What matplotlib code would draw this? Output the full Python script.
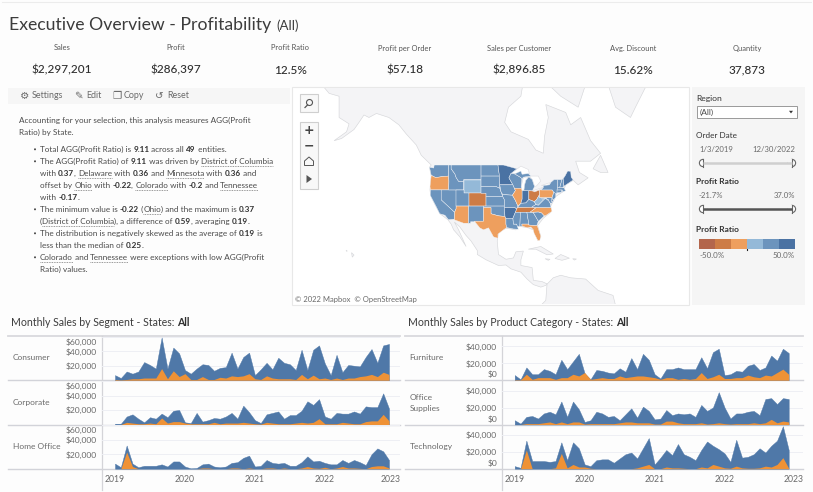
import re

import matplotlib
matplotlib.use('Agg')
import matplotlib.pyplot as plt
import numpy as np
from matplotlib.colors import BoundaryNorm, ListedColormap
from matplotlib.patches import Circle, Polygon, Rectangle
from matplotlib.transforms import ScaledTranslation

plt.rcParams['font.family'] = ['Lato', 'DejaVu Sans']

BLUE = '#4f78a8'
ORANGE = '#ef9236'
TEXT = '#4a4a4a'
GREY = '#6a6a6a'
LINE = '#d2d3d9'

kpi_names = ['Sales', 'Profit', 'Profit Ratio', 'Profit per Order', 'Sales per Customer', 'Avg. Discount', 'Quantity']
kpi_values = ['$2,297,201', '$286,397', '12.5%', '$57.18', '$2,896.85', '15.62%', '37,873']

summary_intro = ['Accounting for your selection, this analysis measures AGG(Profit', 'Ratio) by State.']
summary_lines = [
    ('*', 'Total AGG(Profit Ratio) is **9.11** across all **49** entities.'),
    ('*', 'The AGG(Profit Ratio) of **9.11** was driven by __District of Columbia__'),
    ('', 'with **0.37**, __Delaware__ with **0.36** and __Minnesota__ with **0.36** and'),
    ('', 'offset by __Ohio__ with **-0.22**, __Colorado__ with **-0.2** and __Tennessee__'),
    ('', 'with **-0.17**.'),
    ('*', 'The minimum value is **-0.22** (__Ohio__) and the maximum is **0.37**'),
    ('', '(__District of Columbia__), a difference of **0.59**, averaging **0.19**.'),
    ('*', 'The distribution is negatively skewed as the average of **0.19** is'),
    ('', 'less than the median of **0.25**.'),
    ('*', '__Colorado__ and __Tennessee__ were exceptions with low AGG(Profit'),
    ('', 'Ratio) values.'),
]

# monthly sales in $ thousands, Jan 2019 - Dec 2022
consumer_total = [7, 3, 12, 9, 12, 25, 21, 16, 59, 16, 45, 37,
                  14, 9, 16, 22, 21, 13, 17, 18, 38, 16, 32, 38,
                  7, 15, 24, 15, 31, 24, 22, 14, 42, 14, 42, 48,
                  23, 7, 35, 11, 21, 20, 19, 32, 43, 24, 48, 50]
consumer_profit = [1, 0.5, 1, 2, 2, 3, 3, 3, 16, 2, 13, 5,
                   9, 1, 1, 5, 1, 1, 4, 3, 6, 5, 6, 9,
                   2, 1, 6, 3, 2, 2, 2, 1, 8, 2, 7, 2,
                   3, 1, 3, 1, 3, 3, 5, 6, 8, 5, 11, 8]
corporate_total = [1, 1, 11, 14, 8, 3, 10, 8, 15, 10, 19, 20,
                   3, 2, 16, 4, 6, 9, 8, 11, 16, 8, 26, 17,
                   6, 2, 14, 16, 18, 8, 13, 13, 19, 32, 27, 35,
                   11, 8, 16, 15, 15, 18, 15, 25, 24, 24, 43, 22]
corporate_profit = [0, 0, 3, 2, 1, 1, 2, 1, 9, 2, 4, 4,
                    2, 1, 1, 1, 1, 3, 1, 2, 2, 2, 3, 2,
                    1, 0.5, 3, 2, 1, 1, 1, 2, 3, 2, 3, 8,
                    1, 1, 1, 3, 2, 1, 1, 4, 5, 5, 14, 5]
home_total = [7, 2, 32, 7, 2, 4, 4, 4, 6, 3, 10, 10,
              3, 0.5, 1, 6, 7, 3, 2, 3, 8, 9, 15, 18,
              3, 4, 12, 8, 7, 8, 4, 4, 9, 17, 10, 11,
              8, 6, 6, 12, 8, 12, 9, 5, 20, 28, 24, 12]
home_profit = [0, 0, 23, 3, 0, 0, 0, 0, 0, 0, 0, 0,
               0, 0, 0, 1, 1, 0, 0, 0, 1, 1, 0, 1,
               0, 0, 1, 1, 0, 1, 0, 0, 1, 3, 1, 0.5,
               2, 0, 1, 3, 1, 1, 0.5, 0, 3, 4, 4, 1]
furniture_total = [6, 1, 15, 7, 7, 13, 11, 7, 24, 13, 22, 31,
                   8, 1, 12, 11, 9, 8, 14, 10, 26, 13, 31, 24,
                   7, 2, 13, 13, 15, 13, 13, 13, 27, 14, 33, 37,
                   6, 7, 11, 10, 17, 19, 12, 15, 29, 23, 37, 32]
furniture_profit = [0.5, 0.5, 7, 1, 3, 3, 3, 1, 3, 3, 7, 5,
                    9, 1, 2, 3, 2, 2, 5, 3, 4, 5, 5, 4,
                    3, 1, 3, 3, 1, 2, 1, 2, 9, 2, 4, 7,
                    2, 2, 3, 3, 6, 4, 3, 6, 5, 9, 13, 7]
office_total = [5, 1, 9, 10, 7, 13, 15, 12, 27, 9, 27, 18,
                3, 5, 15, 13, 9, 10, 5, 12, 19, 8, 21, 16,
                6, 7, 17, 11, 13, 12, 13, 9, 23, 16, 20, 38,
                20, 7, 13, 13, 15, 16, 11, 30, 31, 24, 31, 30]
office_profit = [0, 0, 1, 1, 1, 2, 3, 1, 3, 1, 3, 3,
                 0.5, 1, 1, 1, 1, 1, 2, 3, 3, 2, 2, 2,
                 0.5, 0.5, 4, 4, 2, 1, 1, 1, 2, 0.5, 1, 2,
                 1, 0.5, 1, 1, 1, 2, 1, 2, 6, 2, 4, 3]
tech_total = [3, 1, 33, 9, 9, 9, 8, 9, 31, 10, 31, 24,
              5, 3, 10, 11, 11, 7, 12, 17, 19, 12, 24, 36,
              5, 13, 22, 16, 29, 17, 14, 10, 22, 32, 27, 23,
              18, 8, 34, 13, 14, 17, 24, 19, 27, 33, 50, 22]
tech_profit = [0, 0, 22, 0, 0, 0, 0, 1, 18, 1, 5, 2,
               2, 0.5, 0, 0, 0, 0, 0, 0, 0, 1, 3, 5,
               0, 0, 2, 1, 1, 0.5, 0, 0, 2, 1, 5, 3,
               1, 0.5, 3, 1, 0.5, 0.5, 1, 3, 2, 5, 13, 0.5]
year_labels = ['2019', '2020', '2021', '2022', '2023']

state_ratio = {
    'WA': .24, 'OR': -.07, 'CA': .23, 'NV': .24, 'ID': .26, 'MT': .25, 'WY': .10, 'UT': .25, 'CO': -.20,
    'AZ': -.06, 'NM': .30, 'ND': .25, 'SD': .25, 'NE': .25, 'KS': .25, 'OK': .30, 'TX': -.15, 'MN': .36,
    'IA': .26, 'MO': .30, 'AR': .35, 'LA': .25, 'WI': .25, 'IL': -.13, 'IN': .35, 'MI': .30, 'OH': -.22,
    'KY': .25, 'TN': -.17, 'MS': .28, 'AL': .29, 'GA': .30, 'FL': -.04, 'SC': .26, 'NC': -.07, 'VA': .28,
    'WV': .12, 'MD': .28, 'DE': .36, 'DC': .37, 'PA': -.10, 'NY': .30, 'NJ': .30, 'CT': .30, 'RI': .30,
    'MA': .28, 'VT': .30, 'NH': .30, 'ME': .36,
}
ratio_steps = [-.5, -1 / 3, -1 / 6, 0, 1 / 6, 1 / 3, .5]
ratio_colors = ['#b3664c', '#cd7c46', '#ee9f5e', '#94b9d8', '#6c94bd', '#4a72a3']

# simplified outlines, lon/lat
state_shapes = {
    'WA': [(-124.7, 48.4), (-123, 48.2), (-122.8, 49), (-117, 49), (-117, 46), (-119, 45.9), (-121, 45.7), (-122.3, 45.6), (-124, 46.2)],
    'OR': [(-124, 46.2), (-122.3, 45.6), (-121, 45.7), (-119, 45.9), (-117, 46), (-116.9, 44.5), (-117, 42), (-124.3, 42), (-124.5, 43)],
    'CA': [(-124.3, 42), (-120, 42), (-120, 39), (-114.6, 35), (-114.7, 32.7), (-117.1, 32.5), (-118.5, 34), (-120.6, 34.5), (-122, 36.8), (-123.8, 39.5), (-124.4, 40.4)],
    'NV': [(-120, 42), (-114, 42), (-114, 36.2), (-114.6, 35), (-120, 39)],
    'ID': [(-117, 49), (-116, 49), (-116, 48), (-114.5, 46.6), (-114, 45.6), (-113, 44.5), (-111, 44.5), (-111, 42), (-117, 42), (-116.9, 44.5), (-117, 46)],
    'MT': [(-116, 49), (-104, 49), (-104, 45), (-111, 45), (-111, 44.5), (-113, 44.5), (-114, 45.6), (-114.5, 46.6), (-116, 48)],
    'WY': [(-111, 45), (-104, 45), (-104, 41), (-111, 41)],
    'UT': [(-114, 42), (-111, 42), (-111, 41), (-109, 41), (-109, 37), (-114, 37)],
    'CO': [(-109, 41), (-102, 41), (-102, 37), (-109, 37)],
    'AZ': [(-114, 37), (-109, 37), (-109, 31.3), (-111, 31.3), (-114.8, 32.5), (-114.7, 32.7), (-114.6, 35), (-114, 36.2)],
    'NM': [(-109, 37), (-103, 37), (-103, 32), (-106.6, 32), (-106.5, 31.8), (-108.2, 31.8), (-108.2, 31.3), (-109, 31.3)],
    'ND': [(-104, 49), (-97.2, 49), (-96.6, 46), (-104, 46)],
    'SD': [(-104, 46), (-96.6, 46), (-96.5, 42.5), (-98, 43), (-104, 43)],
    'NE': [(-104, 43), (-98, 43), (-96.5, 42.5), (-95.3, 40), (-102, 40), (-102, 41), (-104, 41)],
    'KS': [(-102, 40), (-95.3, 40), (-94.6, 39), (-94.6, 37), (-102, 37)],
    'OK': [(-103, 37), (-94.6, 37), (-94.4, 33.6), (-97, 33.8), (-100, 34.5), (-100, 36.5), (-103, 36.5)],
    'TX': [(-103, 36.5), (-100, 36.5), (-100, 34.5), (-97, 33.8), (-94.4, 33.6), (-94, 33), (-94, 31), (-93.7, 29.8), (-95, 29), (-97.2, 27.5), (-97.2, 26), (-99, 26.5), (-101, 29.7), (-103, 29), (-104.5, 29.7), (-106.5, 31.8), (-106.6, 32), (-103, 32)],
    'MN': [(-97.2, 49), (-95, 49), (-89.6, 48), (-92, 46.7), (-92.8, 45.5), (-91.2, 43.5), (-96.5, 43.5), (-96.6, 46)],
    'IA': [(-96.5, 43.5), (-91.2, 43.5), (-90.2, 41.8), (-91.4, 40.4), (-95.3, 40.6), (-96, 41.5)],
    'MO': [(-95.3, 40.6), (-91.4, 40.4), (-90.2, 38.8), (-89.2, 37), (-89.7, 36), (-90.4, 36.5), (-94.6, 36.5), (-94.6, 39), (-95.3, 40)],
    'AR': [(-94.6, 36.5), (-90.4, 36.5), (-89.7, 36), (-91.2, 33), (-94, 33), (-94.4, 33.6)],
    'LA': [(-94, 33), (-91.2, 33), (-91, 31), (-89.7, 31), (-89.4, 30.2), (-89, 29.2), (-91, 29.3), (-93.7, 29.8), (-94, 31)],
    'WI': [(-92, 46.7), (-90.5, 46.6), (-88, 45.6), (-87.6, 45.1), (-87.9, 43), (-87.8, 42.5), (-90.6, 42.5), (-91.2, 43.5), (-92.8, 45.5)],
    'IL': [(-90.6, 42.5), (-87.8, 42.5), (-87.5, 41.7), (-87.5, 39.2), (-88, 37.9), (-89.2, 37), (-90.2, 38.8), (-91.4, 40.4), (-90.2, 41.8)],
    'IN': [(-87.5, 41.7), (-86.8, 41.8), (-84.8, 41.75), (-84.8, 39.1), (-86, 38), (-88, 37.9), (-87.5, 39.2)],
    'MI': [(-86.8, 41.8), (-84.8, 41.75), (-83.4, 41.7), (-82.5, 43), (-83, 44), (-83.4, 45), (-84.8, 45.8), (-86, 44.8), (-86.5, 43.5)],
    'OH': [(-84.8, 41.75), (-83.4, 41.7), (-82.5, 41.4), (-80.5, 42), (-80.5, 40.6), (-81.7, 39), (-82.6, 38.4), (-84.8, 39.1)],
    'KY': [(-89.4, 36.5), (-88, 37.9), (-86, 38), (-84.8, 39.1), (-82.6, 38.4), (-82, 37.5), (-83.7, 36.6)],
    'TN': [(-90.2, 35), (-89.7, 36), (-89.4, 36.5), (-83.7, 36.6), (-81.7, 36.6), (-84.3, 35)],
    'MS': [(-90.2, 35), (-88.2, 35), (-88.4, 30.3), (-89.4, 30.2), (-89.7, 31), (-91, 31), (-91.2, 33)],
    'AL': [(-88.2, 35), (-85.6, 35), (-85, 32), (-85, 31), (-87.6, 31), (-87.5, 30.3), (-88.4, 30.3)],
    'GA': [(-85.6, 35), (-83.1, 35), (-81, 32), (-81.5, 30.7), (-82, 30.4), (-84.9, 30.7), (-85, 31), (-85, 32)],
    'FL': [(-87.6, 31), (-85, 31), (-84.9, 30.7), (-82, 30.4), (-81.5, 30.7), (-80, 26.8), (-80.4, 25.2), (-81.2, 25.2), (-82.7, 27.8), (-83, 29), (-84, 30), (-85.3, 29.7), (-87.5, 30.3)],
    'SC': [(-83.1, 35), (-81, 35.1), (-79.7, 34.8), (-78.6, 33.8), (-80.9, 32), (-81, 32)],
    'NC': [(-84.3, 35), (-81.7, 36.6), (-75.9, 36.55), (-75.5, 35.3), (-78, 33.9), (-78.6, 33.8), (-79.7, 34.8), (-81, 35.1), (-83.1, 35)],
    'VA': [(-83.7, 36.6), (-75.9, 36.55), (-76.3, 38), (-77, 38.9), (-78.3, 39.4), (-79.5, 38.5), (-81, 37.3), (-82, 37.5)],
    'WV': [(-82.6, 38.4), (-81.7, 39), (-80.5, 40.6), (-80.5, 39.7), (-79.5, 39.7), (-79.5, 39.2), (-78, 39.6), (-78.3, 39.4), (-79.5, 38.5), (-81, 37.3), (-82, 37.5)],
    'MD': [(-79.5, 39.7), (-75.8, 39.7), (-75.7, 38.5), (-75.2, 38.4), (-75.7, 37.9), (-76.3, 38), (-77, 38.9), (-78, 39.6), (-79.5, 39.2)],
    'DE': [(-75.8, 39.7), (-75.4, 39.8), (-75.05, 38.5), (-75.7, 38.5)],
    'DC': [(-77.3, 38.95), (-77.04, 39.15), (-76.8, 38.9), (-77.04, 38.7)],
    'PA': [(-80.5, 42), (-79.8, 42), (-75.4, 42), (-74.8, 41.3), (-75.4, 39.8), (-75.8, 39.7), (-80.5, 39.7)],
    'NY': [(-79.8, 42), (-79, 42.7), (-79, 43.3), (-76.5, 43.5), (-76, 44.2), (-74.7, 45), (-73.3, 45), (-73.3, 42.7), (-73.5, 41.1), (-74, 40.7), (-74.8, 41.3), (-75.4, 42)],
    'NJ': [(-74.8, 41.3), (-74, 40.9), (-74, 39.8), (-74.9, 38.95), (-75.5, 39.5)],
    'CT': [(-73.5, 42), (-71.8, 42), (-71.8, 41.3), (-73.5, 41.1)],
    'RI': [(-71.8, 42), (-71.4, 42), (-71.2, 41.5), (-71.8, 41.3)],
    'MA': [(-73.3, 42.7), (-71.3, 42.7), (-70.7, 42.6), (-70, 41.7), (-71.2, 41.5), (-71.4, 42), (-73.5, 42)],
    'VT': [(-73.3, 45), (-71.5, 45), (-72.4, 42.7), (-73.3, 42.7)],
    'NH': [(-71.5, 45), (-71, 45.3), (-70.7, 43.1), (-71.3, 42.7), (-72.4, 42.7)],
    'ME': [(-71, 45.3), (-70.3, 46), (-69.2, 47.4), (-68, 47.3), (-67.8, 45.7), (-67, 44.9), (-70.7, 43.1)],
}
michigan_upper = [(-90.5, 46.6), (-88, 47.4), (-87.5, 46.5), (-85, 46.7), (-84, 46), (-87, 45.7), (-87.6, 45.1), (-88, 45.6)]

land_shapes = [
    [(-170, 70), (-168, 66), (-165, 64.5), (-161, 64), (-161, 60), (-157, 58.7), (-158, 57), (-163, 55), (-160, 55.5), (-155, 57.5),
     (-153, 59), (-151, 60.5), (-149, 60), (-146, 60.8), (-141, 60), (-137, 58.5), (-134, 56.5), (-130, 54), (-128, 51.5), (-124, 49),
     (-124.7, 48.4), (-124, 46), (-124.5, 42), (-124.2, 40.3), (-122.5, 37.5), (-120.5, 34.5), (-117.3, 32.5), (-116, 31), (-115, 29),
     (-112.5, 26.5), (-110, 23), (-111, 25), (-113, 29), (-114.7, 31.7), (-112.5, 30), (-110, 27), (-108, 25), (-105.5, 21.5), (-105.5, 20),
     (-102, 18), (-97, 15.8), (-94, 16), (-92, 14.5), (-88, 13.2), (-85.5, 10.5), (-83, 8.3), (-80, 7.3), (-78, 8), (-77.3, 8.5),
     (-79.5, 9.5), (-83, 10), (-83.5, 15), (-88, 15.8), (-88, 18), (-87, 21.3), (-90, 21), (-91, 18.7), (-94, 18.2), (-97, 20), (-97.5, 25),
     (-97, 28), (-94, 29.6), (-90, 29), (-89, 30.3), (-85, 29.7), (-83, 29), (-81.2, 25.2), (-80, 26.5), (-81.3, 30.5), (-79, 33), (-76, 35),
     (-76, 37), (-74, 40), (-71, 41.5), (-70, 43.5), (-67, 44.8), (-65, 43.5), (-61, 45.5), (-64.5, 47), (-66, 50), (-60, 50), (-56, 52),
     (-60, 55), (-64, 60), (-68, 58.5), (-70, 61), (-78, 62.5), (-77, 60), (-78.5, 56), (-79, 52), (-82, 52.8), (-85, 55.3), (-92, 57),
     (-94.5, 59), (-93, 62), (-88, 64), (-87, 66.5), (-87, 70)],
    [(-44, 60), (-50, 62), (-53, 66), (-53, 70), (-20, 70), (-22, 66), (-38, 65.5), (-42, 62)],
    [(-77, 66), (-72, 64), (-65, 62), (-62, 66), (-68, 70), (-77, 70)],
    [(-59, 48), (-56, 51.5), (-53, 47), (-56, 47)],
    [(-85, 22), (-80, 23), (-75, 20.2), (-77.5, 19.9), (-82, 22)],
    [(-74.3, 18.5), (-72, 20), (-68.5, 18.6), (-71.5, 17.8)],
    [(-78.3, 18.4), (-76.3, 18.2), (-77, 17.8)],
    [(-67.2, 18.4), (-65.7, 18.3), (-66.5, 17.9)],
    [(-156, 20.7), (-155, 19.8), (-155.7, 19)],
    [(-158.2, 21.6), (-157.7, 21.3), (-158, 21.2)],
    [(-77.5, 8.5), (-75, 11), (-72, 12), (-68, 11), (-62, 10.5), (-57, 6), (-51, 4), (-50, 0), (-50, -5), (-80, -5), (-80, 0), (-78, 2)],
]
lake_shapes = [
    [(-92, 46.7), (-88, 48.7), (-85, 47.8), (-84.6, 46.6), (-87.5, 46.5), (-90.5, 46.7)],
    [(-87.9, 43), (-87.5, 41.7), (-86.8, 41.8), (-86.5, 43.5), (-86, 44.8), (-85, 45.8), (-87, 45.6)],
    [(-84.6, 46), (-81, 46), (-80, 44.6), (-81.7, 43.2), (-82.5, 43), (-83.4, 45)],
    [(-83.4, 41.7), (-79, 42.8), (-79, 42.6), (-82.5, 41.4)],
    [(-79.8, 43.3), (-76.5, 44.1), (-76.2, 43.5), (-79, 43.3)],
]
controls = ['+', '\u2212']


def merc(lat):
    return np.degrees(np.log(np.tan(np.radians(45 + np.asarray(lat, dtype=float) / 2))))


def project(shape):
    return [(lon, merc(lat)) for lon, lat in shape]


def px_axes(x0, y0, x1, y1, **kw):
    return fig.add_axes([x0 / 813, 1 - y1 / 492, (x1 - x0) / 813, (y1 - y0) / 492], **kw)


fig = plt.figure(figsize=(8.13, 4.92), dpi=100, facecolor='#fdfdfd')
renderer = fig.canvas.get_renderer()

ui = fig.add_axes([0, 0, 1, 1], zorder=5)
ui.set_xlim(0, 813)
ui.set_ylim(492, 0)
ui.axis('off')
ui.patch.set_visible(False)

back = fig.add_axes([0, 0, 1, 1], zorder=0)
back.set_xlim(0, 813)
back.set_ylim(492, 0)
back.axis('off')
back.add_patch(Rectangle((8, 88), 282, 16, fc='#f6f6f6', ec='none'))
back.add_patch(Rectangle((692, 87), 113, 218, fc='#f5f5f5', ec='none'))
back.add_patch(Rectangle((292, 87), 397, 218, fc='white', ec='#e8e8e8', lw=0.8))
back.plot([2, 811], [2, 2], color='#ececec', lw=0.8)


def label(x, y, s, size=6.1, color=TEXT, ha='left', **kw):
    return ui.text(x, y, s, fontsize=size, color=color, ha=ha, va='center', **kw)


# header
t = label(9, 25, 'Executive Overview - Profitability', size=12.7, color='#3c3c3c')
label(t.get_window_extent(renderer).x1 + 5, 26, '(All)', size=9.5, color='#3c3c3c')
for i, (name, value) in enumerate(zip(kpi_names, kpi_values)):
    cx = 62 + i * 114.2
    label(cx, 48, name, size=5.4, color='#555555', ha='center')
    label(cx, 70, value, size=8.5, color='#2f2f2f', ha='center', fontweight='medium')

# toolbar
for x, icon, name in [(20, '\u2699', 'Settings'), (74, '\u270e', 'Edit'), (112, '\u2750', 'Copy'), (155, '\u21ba', 'Reset')]:
    ui.text(x, 96, icon, fontsize=7.5, color=GREY, va='center', family='DejaVu Sans')
    label(x + 12, 96, name, size=6.4, color=GREY)


def rich_line(x, y, line):
    for part in re.split(r'(\*\*.+?\*\*|__.+?__)', line):
        if not part:
            continue
        bold = part.startswith('**')
        under = part.startswith('__')
        s = part[2:-2] if bold or under else part
        t = label(x, y, s.replace(' ', '\u00a0'), size=5.9, color='#2f2f2f' if bold else TEXT,
                  fontweight='bold' if bold else 'normal')
        x1 = t.get_window_extent(renderer).x1
        if under:
            ui.plot([x, x1], [y + 5, y + 5], color='#777777', lw=0.6, ls=(0, (1, 1)))
        x = x1


for i, s in enumerate(summary_intro):
    rich_line(19, 120.7 + i * 11.7, s)
for i, (bullet, s) in enumerate(summary_lines):
    y = 149.3 + i * 12
    if bullet:
        ui.add_patch(Circle((35, y), 1, fc=TEXT, ec='none'))
    rich_line(40, y, s)

# map
lon0, lon1 = -179.9, -20.9
my0, my1 = 0.14, 87.7
mp = px_axes(293, 88, 688, 304, zorder=1)
mp.set_xlim(lon0 + 0.4, lon1)
mp.set_ylim(my0 + 0.4, my1 - 0.4)
mp.axis('off')
for shape in land_shapes:
    mp.add_patch(Polygon(project(shape), fc='#f4f4f6', ec='#d6d7da', lw=0.45))
for shape in lake_shapes:
    mp.add_patch(Polygon(project(shape), fc='white', ec='#dcdce0', lw=0.4))
step_cmap = ListedColormap(ratio_colors)
step_norm = BoundaryNorm(ratio_steps, step_cmap.N)
for state, shape in state_shapes.items():
    color = step_cmap(step_norm(state_ratio[state]))
    mp.add_patch(Polygon(project(shape), fc=color, ec='#f2f4f8', lw=0.3))
    if state == 'MI':
        mp.add_patch(Polygon(project(michigan_upper), fc=color, ec='#f2f4f8', lw=0.3))

label(295, 299.5, '\u00a9 2022 Mapbox  \u00a9 OpenStreetMap', size=5.5, color=GREY)
ui.add_patch(Rectangle((300, 94), 18, 18, fc='#f8f8f8', ec='#cfcfcf', lw=0.8))
ui.add_patch(Circle((309.5, 102.5), 3, fc='none', ec='#555555', lw=0.8))
ui.plot([307.5, 305], [105, 107.5], color='#555555', lw=0.9)
ui.add_patch(Rectangle((300, 122), 18, 67, fc='#f8f8f8', ec='#cfcfcf', lw=0.8))
for y, s in zip([131, 145.5], controls):
    ui.text(309, y, s, fontsize=9, color='#444444', ha='center', va='center', family='DejaVu Sans', fontweight='bold')
ui.add_patch(Polygon([(309, 157), (304.5, 161), (304.5, 165.5), (313.5, 165.5), (313.5, 161)], fc='none', ec='#555555', lw=0.7))
ui.add_patch(Polygon([(306.5, 175), (306.5, 183), (312, 179)], fc='#555555', ec='none'))

# sidebar
label(696, 99, 'Region', size=6.1, color='#333333')
ui.add_patch(Rectangle((697, 106), 100, 12, fc='white', ec='#9a9a9a', lw=0.7))
label(700, 112, '(All)', size=6)
ui.add_patch(Polygon([(789, 110.8), (793, 110.8), (791, 113.4)], fc='#333333', ec='none'))
label(696, 136, 'Order Date', size=5.9, color='#333333')
label(699, 150, '1/3/2019', size=5.6, color=GREY)
label(795, 150, '12/30/2022', size=5.6, color=GREY, ha='right')
label(696, 182, 'Profit Ratio', size=6, color='#333333', fontweight='bold')
label(699, 196, '-21.7%', size=5.6, color=GREY)
label(795, 196, '37.0%', size=5.6, color=GREY, ha='right')
for y, color in [(163, '#cfcfcf'), (209, '#555555')]:
    ui.add_patch(Circle((703, y), 3.6, fc='white', ec='#666666', lw=0.8))
    ui.add_patch(Circle((792, y), 3.6, fc='white', ec='#666666', lw=0.8))
    ui.add_patch(Rectangle((703, y - 4.2), 4.2, 8.4, fc='#f5f5f5', ec='none'))
    ui.add_patch(Rectangle((787.8, y - 4.2), 4.2, 8.4, fc='#f5f5f5', ec='none'))
    ui.plot([703, 703], [y - 3.6, y + 3.6], color='#666666', lw=0.8)
    ui.plot([792, 792], [y - 3.6, y + 3.6], color='#666666', lw=0.8)
    ui.plot([703, 792], [y, y], color=color, lw=1.8, solid_capstyle='butt')
label(696, 229, 'Profit Ratio', size=6, color='#333333', fontweight='bold')
leg = px_axes(699, 239, 795, 249, zorder=6)
leg.pcolormesh(ratio_steps, [0, 1], [[(a + b) / 2 for a, b in zip(ratio_steps, ratio_steps[1:])]], cmap=step_cmap, norm=step_norm)
leg.axis('off')
ui.plot([747, 747], [247, 250], color='#222222', lw=0.8)
label(699, 255, '-50.0%', size=5.8, color=GREY)
label(795, 255, '50.0%', size=5.8, color=GREY, ha='right')

# area charts
rows = [
    ('Monthly Sales by Segment - States: ', 11, 8, 102, 400, 115, 61,
     [60, 40, 20], [('Consumer', consumer_total, consumer_profit),
                    ('Corporate', corporate_total, corporate_profit),
                    ('Home Office', home_total, home_profit)]),
    ('Monthly Sales by Product Category - States: ', 408, 405, 502, 803, 514.7, 52,
     [40, 20, 0], [('Furniture', furniture_total, furniture_profit),
                   ('Office\nSupplies', office_total, office_profit),
                   ('Technology', tech_total, tech_profit)]),
]
tops = [336, 380.3, 424.5]
months = np.arange(48)
for title, tx, hx, ax0, ax1, first_x, ymax, yticks, panels in rows:
    t = label(tx, 323, title.replace(' ', '\u00a0'), size=7.6, color='#3c3c3c')
    label(t.get_window_extent(renderer).x1, 323, 'All', size=7.6, color='#2f2f2f', fontweight='bold')
    back.plot([hx, ax1], [336, 336], color='#d9d9dd', lw=1.3)
    for top, (name, total, profit) in zip(tops, panels):
        ax = px_axes(ax0, top, ax1, top + 44.2, zorder=2)
        ax.patch.set_visible(False)
        ax.fill_between(months, total, color=BLUE, lw=0.3)
        ax.fill_between(months, profit, color=ORANGE, lw=0)
        ax.set_xlim((ax0 - first_x) / 5.83, (ax1 - first_x) / 5.83)
        ax.set_ylim(0, ymax)
        ax.set_yticks(yticks, ['${:,}'.format(v * 1000) for v in yticks])
        ax.set_xticks([])
        ax.grid(axis='y', color='#eeeff4', lw=0.7)
        ax.set_axisbelow(True)
        ax.tick_params(axis='y', length=0, pad=3.5, labelsize=6.1, labelcolor=GREY)
        for lab, v in zip(ax.get_yticklabels(), yticks):
            # top and bottom labels get pushed into the pane
            shift = -4.5 if v == 60 else (6 if v == 0 else 0)
            lab.set_transform(lab.get_transform() + ScaledTranslation(0, shift / 100, fig.dpi_scale_trans))
        for side in ['top', 'right', 'left', 'bottom']:
            ax.spines[side].set_visible(False)
        back.plot([hx, ax1], [top + 44.2, top + 44.2], color=LINE, lw=1)
        if '\n' in name:
            for j, part in enumerate(name.split('\n')):
                label(hx + 4.5, top + 17 + j * 11, part, size=6, color=GREY)
        else:
            label(hx + 4.5, top + 22, name, size=6, color=GREY)
    back.plot([ax0, ax0], [336, 490], color='#d4d4d8', lw=0.9)
    for i, year in enumerate(year_labels):
        x = first_x + i * 70
        if i == 4:
            x = ax1 - 9
        label(x, 479, year, size=6.2, color=GREY, ha='center')

fig.savefig('out.png', dpi=100, facecolor=fig.get_facecolor())
